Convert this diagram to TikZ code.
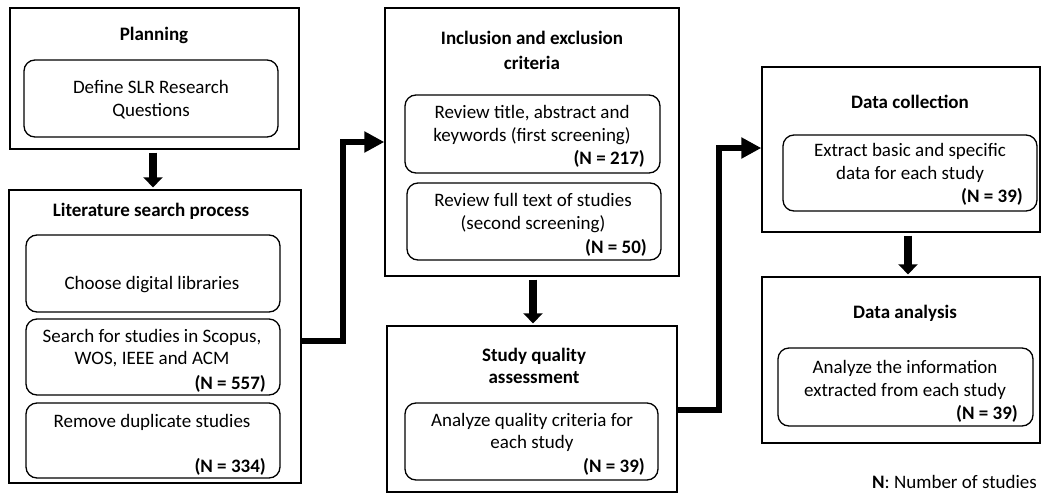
\documentclass[tikz,border=0pt]{standalone}
\usepackage{fontspec}
\setmainfont{Carlito}
\usetikzlibrary{arrows.meta}
% box from its corners: style, name, x1, y1, x2, y2
\newcommand\mkbox[6]{\node[#1, minimum width={#5-#3}, minimum height={#6-#4}] (#2) at ({(#3+#5)/2},{(#4+#6)/2}) {};}
\begin{document}
\begin{tikzpicture}[x=1pt,y=-1pt,
  phase/.style={draw, line width=1.3pt, inner sep=0pt},
  task/.style={draw, line width=1.3pt, rounded corners=11pt, inner sep=0pt},
  txt/.style={anchor=base, inner sep=0pt, font=\fontsize{19}{23}\selectfont},
  ttl/.style={anchor=base, inner sep=0pt, font=\fontsize{19}{23}\selectfont\bfseries},
  cnt/.style={anchor=base east, inner sep=0pt, font=\fontsize{19}{23}\selectfont\bfseries},
  down/.style={line width=8pt, -{Triangle[length=10pt,width=19pt]}, shorten <=3pt, shorten >=2pt},
  link/.style={line width=6.5pt, -{Triangle[length=20pt,width=20pt]}, line join=miter},
]
\useasboundingbox (0,0) rectangle (1042,493);

% ---- Planning
\mkbox{phase}{plan}{10}{8}{299}{149}
\node[ttl] (planT) at (154,40) {Planning};
\mkbox{task}{plan1}{24}{60}{278}{137}
\node[txt] (plan1a) at (151,93) {Define SLR Research};
\node[txt] (plan1b) at (151,116) {Questions};

% ---- Literature search process
\mkbox{phase}{lit}{9}{190}{301}{483}
\node[ttl] (litT) at (151,216) {Literature search process};
\mkbox{task}{lit1}{26}{235}{280}{312}
\node[txt] (lit1a) at (152,289) {Choose digital libraries};
\mkbox{task}{lit2}{26}{319}{280}{395}
\node[txt] (lit2a) at (152,342) {Search for studies in Scopus,};
\node[txt] (lit2b) at (152,364) {WOS, IEEE and ACM};
\node[cnt] (lit2n) at (266,389) {(N = 557)};
\mkbox{task}{lit3}{26}{403}{280}{478}
\node[txt] (lit3a) at (152,427) {Remove duplicate studies};
\node[cnt] (lit3n) at (266,472) {(N = 334)};

% ---- Inclusion and exclusion criteria
\mkbox{phase}{inc}{385}{8}{679}{276}
\node[ttl] (incT1) at (532,44) {Inclusion and exclusion};
\node[ttl] (incT2) at (532,69) {criteria};
\mkbox{task}{inc1}{405}{95}{660}{173}
\node[txt] (inc1a) at (532,118) {Review title, abstract and};
\node[txt] (inc1b) at (532,141) {keywords (first screening)};
\node[cnt] (inc1n) at (645,164) {(N = 217)};
\mkbox{task}{inc2}{407}{183}{661}{260}
\node[txt] (inc2a) at (533,206) {Review full text of studies};
\node[txt] (inc2b) at (533,229) {(second screening)};
\node[cnt] (inc2n) at (647,253) {(N = 50)};

% ---- Study quality assessment
\mkbox{phase}{sq}{387}{326}{677}{492}
\node[ttl] (sqT1) at (534,361) {Study quality};
\node[ttl] (sqT2) at (534,383) {assessment};
\mkbox{task}{sq1}{405}{403}{658}{480}
\node[txt] (sq1a) at (532,426) {Analyze quality criteria for};
\node[txt] (sq1b) at (532,448) {each study};
\node[cnt] (sq1n) at (645,472) {(N = 39)};

% ---- Data collection
\mkbox{phase}{dc}{762}{67}{1040}{232}
\node[ttl] (dcT) at (910,108) {Data collection};
\mkbox{task}{dc1}{783}{135}{1037}{211}
\node[txt] (dc1a) at (910,156) {Extract basic and specific};
\node[txt] (dc1b) at (910,179) {data for each study};
\node[cnt] (dc1n) at (1023,202) {(N = 39)};

% ---- Data analysis
\mkbox{phase}{da}{762}{277}{1040}{443}
\node[ttl] (daT) at (905,318) {Data analysis};
\mkbox{task}{da1}{778}{348}{1033}{426}
\node[txt] (da1a) at (905,373) {Analyze the information};
\node[txt] (da1b) at (905,396) {extracted from each study};
\node[cnt] (da1n) at (1018,419) {(N = 39)};

% ---- legend
\node[txt, anchor=base east] (note) at (1037,488) {\textbf{N}: Number of studies};

% ---- arrows between stacked phases
\draw[down] ([xshift=-1.5pt]plan.south) -- ([xshift=-1.5pt]plan.south |- lit.north);
\draw[down] ([xshift=1pt]inc.south) -- ([xshift=1pt]inc.south |- sq.north);
\draw[down] ([xshift=7pt]dc.south) -- ([xshift=7pt]dc.south |- da.north);

% ---- elbow links between columns
\coordinate (j1) at (343,341);
\coordinate (j2) at (343,142);
\draw[link] (lit.east |- j1) -- (j1) -- (j2) -- (inc.west |- j2);
\coordinate (j3) at (719,410);
\coordinate (j4) at (719,148);
\draw[link] (sq.east |- j3) -- (j3) -- (j4) -- (dc.west |- j4);
\end{tikzpicture}
\end{document}
